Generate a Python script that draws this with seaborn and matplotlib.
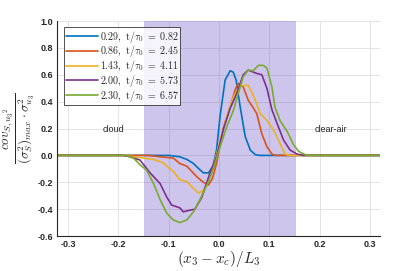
import numpy as np
import pandas as pd
import matplotlib
matplotlib.use("Agg")
import matplotlib.pyplot as plt
import seaborn as sns

labels = [r"$\mathrm{0.29,\ t/}\tau_0\ =\ 0.82$",
          r"$\mathrm{0.86,\ t/}\tau_0\ =\ 2.45$",
          r"$\mathrm{1.43,\ t/}\tau_0\ =\ 4.11$",
          r"$\mathrm{2.00,\ t/}\tau_0\ =\ 5.73$",
          r"$\mathrm{2.30,\ t/}\tau_0\ =\ 6.57$"]
colors = ["#0072BD", "#D95319", "#EDB120", "#7E2F8E", "#77AC30"]

x1 = [-0.32, -0.10, -0.078, -0.064, -0.051, -0.04, -0.031, -0.021, -0.012, -0.005, 0.002, 0.012, 0.022, 0.028, 0.034, 0.042, 0.052, 0.062, 0.072, 0.08, 0.32]
y1 = [0, 0, -0.01, -0.03, -0.06, -0.10, -0.13, -0.13, -0.08, 0.04, 0.29, 0.56, 0.63, 0.62, 0.56, 0.36, 0.14, 0.04, 0.005, 0, 0]

x2 = [-0.32, -0.14, -0.117, -0.091, -0.078, -0.064, -0.054, -0.044, -0.031, -0.021, -0.013, -0.005, 0.002, 0.009, 0.022, 0.032, 0.038, 0.048, 0.058, 0.067, 0.075, 0.085, 0.095, 0.105, 0.112, 0.32]
y2 = [0, 0, -0.01, -0.02, -0.06, -0.08, -0.12, -0.16, -0.20, -0.22, -0.17, -0.06, 0.08, 0.21, 0.36, 0.49, 0.535, 0.51, 0.41, 0.36, 0.31, 0.16, 0.065, 0.01, 0, 0]

x3 = [-0.32, -0.19, -0.177, -0.15, -0.13, -0.111, -0.091, -0.078, -0.064, -0.051, -0.041, -0.031, -0.015, -0.001, 0.015, 0.029, 0.042, 0.058, 0.065, 0.072, 0.082, 0.095, 0.108, 0.121, 0.131, 0.14, 0.32]
y3 = [0, 0, -0.005, -0.02, -0.03, -0.055, -0.12, -0.18, -0.195, -0.245, -0.28, -0.26, -0.13, 0.065, 0.29, 0.44, 0.52, 0.52, 0.47, 0.41, 0.31, 0.26, 0.19, 0.09, 0.01, 0, 0]

x4 = [-0.32, -0.19, -0.177, -0.157, -0.137, -0.117, -0.104, -0.094, -0.078, -0.071, -0.061, -0.048, -0.034, -0.018, -0.005, 0.009, 0.022, 0.035, 0.048, 0.058, 0.068, 0.075, 0.085, 0.095, 0.105, 0.115, 0.128, 0.141, 0.155, 0.168, 0.32]
y4 = [0, 0, -0.01, -0.035, -0.13, -0.21, -0.31, -0.37, -0.39, -0.42, -0.41, -0.40, -0.31, -0.13, -0.01, 0.20, 0.35, 0.46, 0.60, 0.635, 0.62, 0.61, 0.60, 0.50, 0.34, 0.24, 0.115, 0.04, 0.01, 0, 0]

x5 = [-0.32, -0.185, -0.17, -0.157, -0.144, -0.13, -0.117, -0.104, -0.091, -0.078, -0.064, -0.051, -0.038, -0.021, -0.008, 0.002, 0.015, 0.029, 0.038, 0.048, 0.058, 0.068, 0.078, 0.088, 0.095, 0.105, 0.111, 0.121, 0.135, 0.148, 0.158, 0.174, 0.32]
y5 = [0, 0, -0.02, -0.07, -0.11, -0.21, -0.33, -0.43, -0.48, -0.50, -0.48, -0.42, -0.33, -0.195, -0.06, 0.065, 0.21, 0.34, 0.46, 0.585, 0.635, 0.63, 0.67, 0.67, 0.65, 0.51, 0.36, 0.26, 0.18, 0.08, 0.03, 0, 0]

xs = [x1, x2, x3, x4, x5]
ys = [y1, y2, y3, y4, y5]

region = (-0.15, 0.15)
xticks = [-0.3, -0.2, -0.1, 0.0, 0.1, 0.2, 0.3]
yticks = [-0.6, -0.4, -0.2, 0.0, 0.2, 0.4, 0.6, 0.8, 1.0]

rows = []
for lab, xx, yy in zip(labels, xs, ys):
    for a, b in zip(xx, yy):
        rows.append({"x": a, "y": b, "series": lab})
df = pd.DataFrame(rows)

sns.set_style("white")
plt.rcParams["mathtext.fontset"] = "cm"
plt.rcParams["font.family"] = ["Liberation Sans", "DejaVu Sans"]

fig = plt.figure(figsize=(4.07, 2.71), dpi=100)
ax = fig.add_axes([0.140, 0.129, 0.794, 0.7935])

ax.grid(True, color="#e3e3e3", linewidth=0.7, zorder=0)
ax.set_axisbelow(True)
ax.axvspan(region[0], region[1], facecolor=(0.367, 0.253, 0.767), alpha=0.3,
           edgecolor=(0.5, 0.4, 0.85), linewidth=0.6, zorder=1)

sns.lineplot(data=df, x="x", y="y", hue="series", palette=colors, ax=ax,
             sort=True, estimator=None, linewidth=1.2, zorder=3)

ax.set_xlim(-0.322, 0.32)
ax.set_ylim(-0.6, 1.0)
ax.set_xticks(xticks)
ax.set_yticks(yticks)
ax.set_xticklabels([f"{t:.1f}" for t in xticks], fontsize=6.5, fontweight="bold")
ax.set_yticklabels([f"{t:.1f}" for t in yticks], fontsize=6.5, fontweight="bold")
ax.tick_params(direction="in", length=2.5, width=0.6, color="#262626", pad=3)
for s in ["top", "right"]:
    ax.spines[s].set_visible(False)
for s in ["left", "bottom"]:
    ax.spines[s].set_color("#262626")
    ax.spines[s].set_linewidth(0.8)
    ax.spines[s].set_zorder(5)

ax.set_xlabel(r"$(x_3-x_c)/L_3$", fontsize=11, labelpad=0)
ax.set_ylabel(r"$\dfrac{cov_{S,{u_3}^2}}{(\sigma_S^2)_{max}\cdot\sigma_{u_3}^2}$", fontsize=9.5, labelpad=0)

ax.text(-0.209, 0.195, "cloud", fontsize=6.5, ha="center", va="center")
ax.text(0.222, 0.195, "clear-air", fontsize=6.5, ha="center", va="center")

leg = ax.legend(loc="upper left", bbox_to_anchor=(0.022, 0.972), fontsize=7.2,
                frameon=True, fancybox=False, edgecolor="#262626",
                handlelength=3.2, handletextpad=0.2, borderpad=0.15,
                labelspacing=-0.12, borderaxespad=0)
leg.get_frame().set_linewidth(0.7)
leg.set_title(None)

fig.savefig("out.png", dpi=100)
